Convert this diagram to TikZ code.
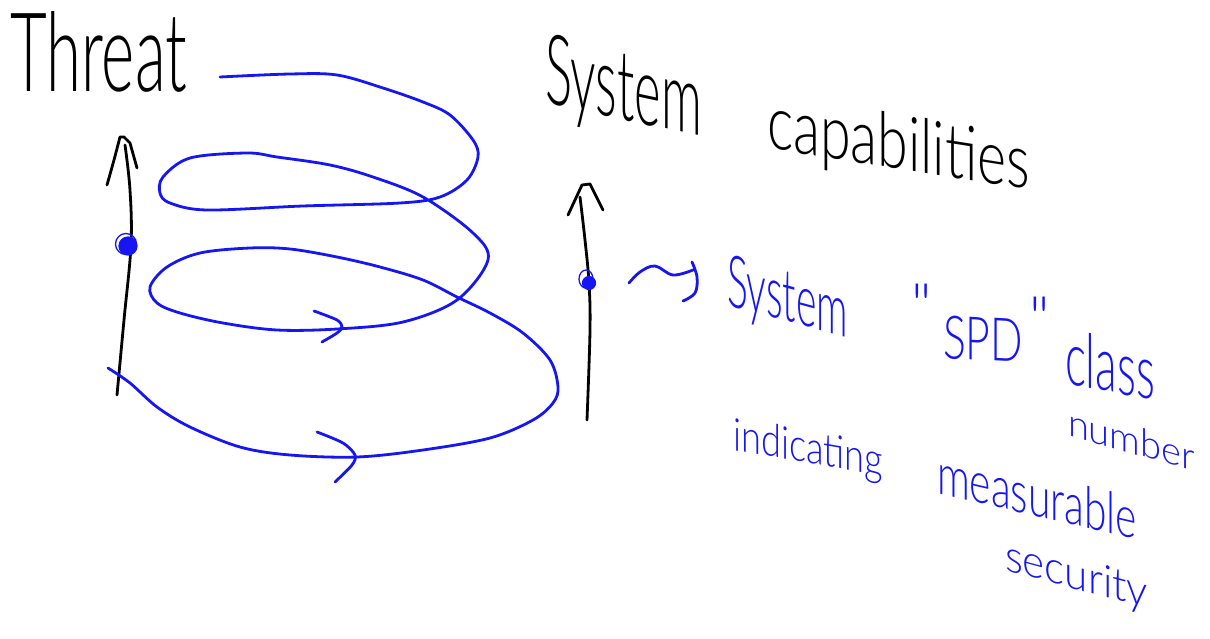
\documentclass[tikz,border=0pt]{standalone}
\usepackage{fontspec}
\usepackage{graphicx}
\newfontfamily\hand{Lato Light}
\definecolor{inkblue}{RGB}{22,22,242}
\begin{document}
\begin{tikzpicture}[x=1pt,y=-1pt,
  ink/.style={line width=2.8pt,line cap=round,line join=round},
  blk/.style={ink,draw=black},
  blu/.style={ink,draw=inkblue},
  lbl/.style={inner sep=0pt,outer sep=0pt,anchor=base west,font=\hand,text=black},
  blbl/.style={lbl,text=inkblue},
  qt/.style={inner sep=0pt,outer sep=0pt,anchor=north,text=inkblue,font=\hand\fontsize{60}{60}\selectfont},
  blob/.style={circle,fill=inkblue,draw=inkblue,line width=1.2pt,inner sep=0pt}]
\useasboundingbox (0,0) rectangle (1210,639);

% black labels
\node[lbl] (threat) at (10,92) {\resizebox{177pt}{80pt}{Threat}};
\node[lbl,yslant=-0.213] (sys) at (545,103) {\resizebox{157pt}{70pt}{System}};
\node[lbl,yslant=-0.158] (cap) at (767,148) {\resizebox{263pt}{55pt}{capabilities}};

% left axis arrow
\coordinate (lbot) at (117,395);
\coordinate (ltop) at (125,145);
\draw[blk] plot[smooth,tension=0.6] coordinates {(lbot) (124,320) (131,245) (130,190) (ltop)};
\draw[blk] plot[smooth,tension=0.5] coordinates {(107,185) (114,160) (120,137)} -- (124,137) -- (130,143) -- (137,168);

% right axis arrow
\coordinate (rbot) at (587,420);
\coordinate (rtop) at (580,197);
\draw[blk] plot[smooth,tension=0.6] coordinates {(rbot) (590,330) (589,283) (585,240) (rtop)};
\draw[blk] (568,215) -- (582,185) -- (590,184) -- (603,210);

% blue dots on the axes
\node[blob,minimum size=18pt] (ldot) at (128,246) {};
\draw[inkblue,line width=1.3pt] (126,244) circle (10.5pt);
\node[blob,minimum size=13pt] (rdot) at (589,283) {};
\draw[inkblue,line width=1.3pt] (586,279) ellipse (7pt and 9pt);

% spiral
\draw[blu] plot[smooth,tension=0.55] coordinates {
 (108,368) (130,383) (157,407) (190,427) (240,447) (290,455) (357,457)
 (423,450) (490,438) (533,420) (553,403) (558,387) (550,360) (523,333)
 (490,313) (457,297) (423,280) (380,267) (337,257) (290,249) (250,248)
 (200,253) (167,267) (150,287) (157,303) (180,313) (223,323) (277,330)
 (337,329) (403,322) (457,300) (488,260) (473,233) (423,197) (373,177)
 (330,165) (277,157) (247,153) (190,158) (163,177) (160,193) (170,203)
 (207,210) (303,206) (400,203) (440,197) (467,180) (478,157) (473,140)
 (450,115) (423,102) (383,88) (337,75) (290,74) (220,77)};
% chevrons on the spiral
\draw[blu] plot[smooth,tension=0.5] coordinates {(314,311) (337,320) (342,327) (337,333) (322,342)};
\draw[blu] plot[smooth,tension=0.5] coordinates {(317,432) (343,443) (355,455) (352,465) (335,482)};

% squiggle arrow
\coordinate (sqs) at (629,283);
\coordinate (sqe) at (693,270);
\draw[blu] plot[smooth,tension=0.6] coordinates {(sqs) (640,272) (655,266) (673,275) (sqe)};
\draw[blu] plot[smooth,tension=0.6] coordinates {(692,262) (697,277) (695,293) (683,301)};

% blue labels
\node[blbl,yslant=-0.268] (bsys) at (727,305) {\resizebox{121pt}{52pt}{System}};
\node[qt] (q1) at (922,284) {"};
\node[blbl,yslant=-0.052] (spd) at (943,358) {\resizebox{80pt}{43pt}{SPD}};
\node[qt] (q2) at (1040,297) {"};
\node[blbl,yslant=-0.194] (cls) at (1065,383) {\resizebox{90pt}{55pt}{class}};
\node[blbl,yslant=-0.287] (num) at (1068,435) {\resizebox{127pt}{28pt}{number}};
\node[blbl,yslant=-0.176] (ind) at (733,450) {\resizebox{150pt}{33pt}{indicating}};
\node[blbl,yslant=-0.231] (mea) at (937,493) {\resizebox{200pt}{42pt}{measurable}};
\node[blbl,yslant=-0.268] (sec) at (1005,570) {\resizebox{143pt}{32pt}{security}};
\end{tikzpicture}
\end{document}
